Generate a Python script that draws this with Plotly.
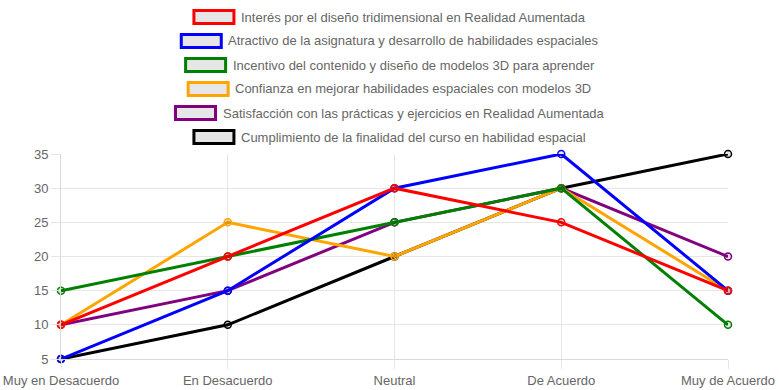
import plotly.graph_objects as go

categories = ["Muy en Desacuerdo", "En Desacuerdo", "Neutral", "De Acuerdo", "Muy de Acuerdo"]
series_names = [
    "Interés por el diseño tridimensional en Realidad Aumentada",
    "Atractivo de la asignatura y desarrollo de habilidades espaciales",
    "Incentivo del contenido y diseño de modelos 3D para aprender",
    "Confianza en mejorar habilidades espaciales con modelos 3D",
    "Satisfacción con las prácticas y ejercicios en Realidad Aumentada",
    "Cumplimiento de la finalidad del curso en habilidad espacial",
]
interes = [10, 20, 30, 25, 15]
atractivo = [5, 15, 30, 35, 15]
incentivo = [15, 20, 25, 30, 10]
confianza = [10, 25, 20, 30, 15]
satisfaccion = [10, 15, 25, 30, 20]
cumplimiento = [5, 10, 20, 30, 35]
series_values = [interes, atractivo, incentivo, confianza, satisfaccion, cumplimiento]
colors = ["red", "blue", "green", "orange", "purple", "black"]

W, H = 779, 390
ML, MR, MT, MB = 61, 51, 154, 31
PW, PH = W - ML - MR, H - MT - MB
FONT = "Liberation Sans, Arial, Helvetica, sans-serif"
FS = 13

fig = go.Figure()
# first dataset drawn on top -> add in reverse
for name, vals, col in reversed(list(zip(series_names, series_values, colors))):
    fig.add_trace(go.Scatter(
        x=categories, y=vals, name=name, mode="lines+markers",
        line=dict(color=col, width=3),
        marker=dict(symbol="circle", size=7, color="rgba(0,0,0,0.1)",
                    line=dict(color=col, width=1.5)),
        showlegend=False, hoverinfo="x+y+name", cliponaxis=False,
    ))

# Arial advance widths (per 1000 em) for legend layout
AW = {' ': 278, 'a': 556, 'b': 556, 'c': 500, 'd': 556, 'e': 556, 'f': 278, 'g': 556,
      'h': 556, 'i': 222, 'j': 222, 'k': 500, 'l': 222, 'm': 833, 'n': 556, 'o': 556,
      'p': 556, 'q': 556, 'r': 333, 's': 500, 't': 278, 'u': 556, 'v': 500, 'w': 722,
      'x': 500, 'y': 500, 'z': 500, 'é': 556, 'ñ': 556, 'á': 556, 'ó': 556, 'A': 667,
      'C': 722, 'D': 722, 'I': 278, 'R': 722, 'S': 667, '3': 556}


def text_w(s):
    return sum(AW.get(ch, 556) for ch in s) * FS / 1000.0


def px2x(px):
    return (px - ML) / PW


def py2y(py):
    return (MT + PH - py) / PH


row_centers = [17, 41, 65, 89, 113, 137]
cx = 389.5
shapes = []
annotations = []
for name, col, yc in zip(series_names, colors, row_centers):
    tw = text_w(name)
    total = 40 + 6.5 + tw
    x0 = cx - total / 2
    shapes.append(dict(type="rect", xref="paper", yref="paper",
                       x0=px2x(x0), x1=px2x(x0 + 40),
                       y0=py2y(yc + 6.5), y1=py2y(yc - 6.5),
                       line=dict(color=col, width=3), fillcolor="#e6e6e6", layer="above"))
    annotations.append(dict(text=name, xref="paper", yref="paper",
                            x=px2x(x0 + 45), y=py2y(yc), xanchor="left", yanchor="middle",
                            showarrow=False, font=dict(family=FONT, size=FS, color="#666666")))

grid = "#e6e6e6"
fig.update_layout(
    width=W, height=H,
    margin=dict(l=ML, r=MR, t=MT, b=MB, autoexpand=False),
    paper_bgcolor="white", plot_bgcolor="white",
    font=dict(family=FONT, size=FS, color="#666666"),
    shapes=shapes, annotations=annotations,
    xaxis=dict(type="category", categoryorder="array", categoryarray=categories,
               range=[0, len(categories) - 1], showgrid=True, gridcolor=grid, gridwidth=1,
               ticks="outside", ticklen=9, tickcolor=grid, showline=True, linecolor="#d9d9d9",
               zeroline=False, automargin=False, tickfont=dict(size=FS, color="#666666")),
    yaxis=dict(range=[5, 35], dtick=5, tick0=5, showgrid=True, gridcolor=grid, gridwidth=1,
               ticks="outside", ticklen=9, tickcolor=grid, showline=True, linecolor="#d9d9d9",
               zeroline=False, automargin=False, tickfont=dict(size=FS, color="#666666")),
)

fig.write_html("out.html", config={"displayModeBar": False},
               post_script="document.body.style.margin='0px';document.body.style.overflow='hidden';")
